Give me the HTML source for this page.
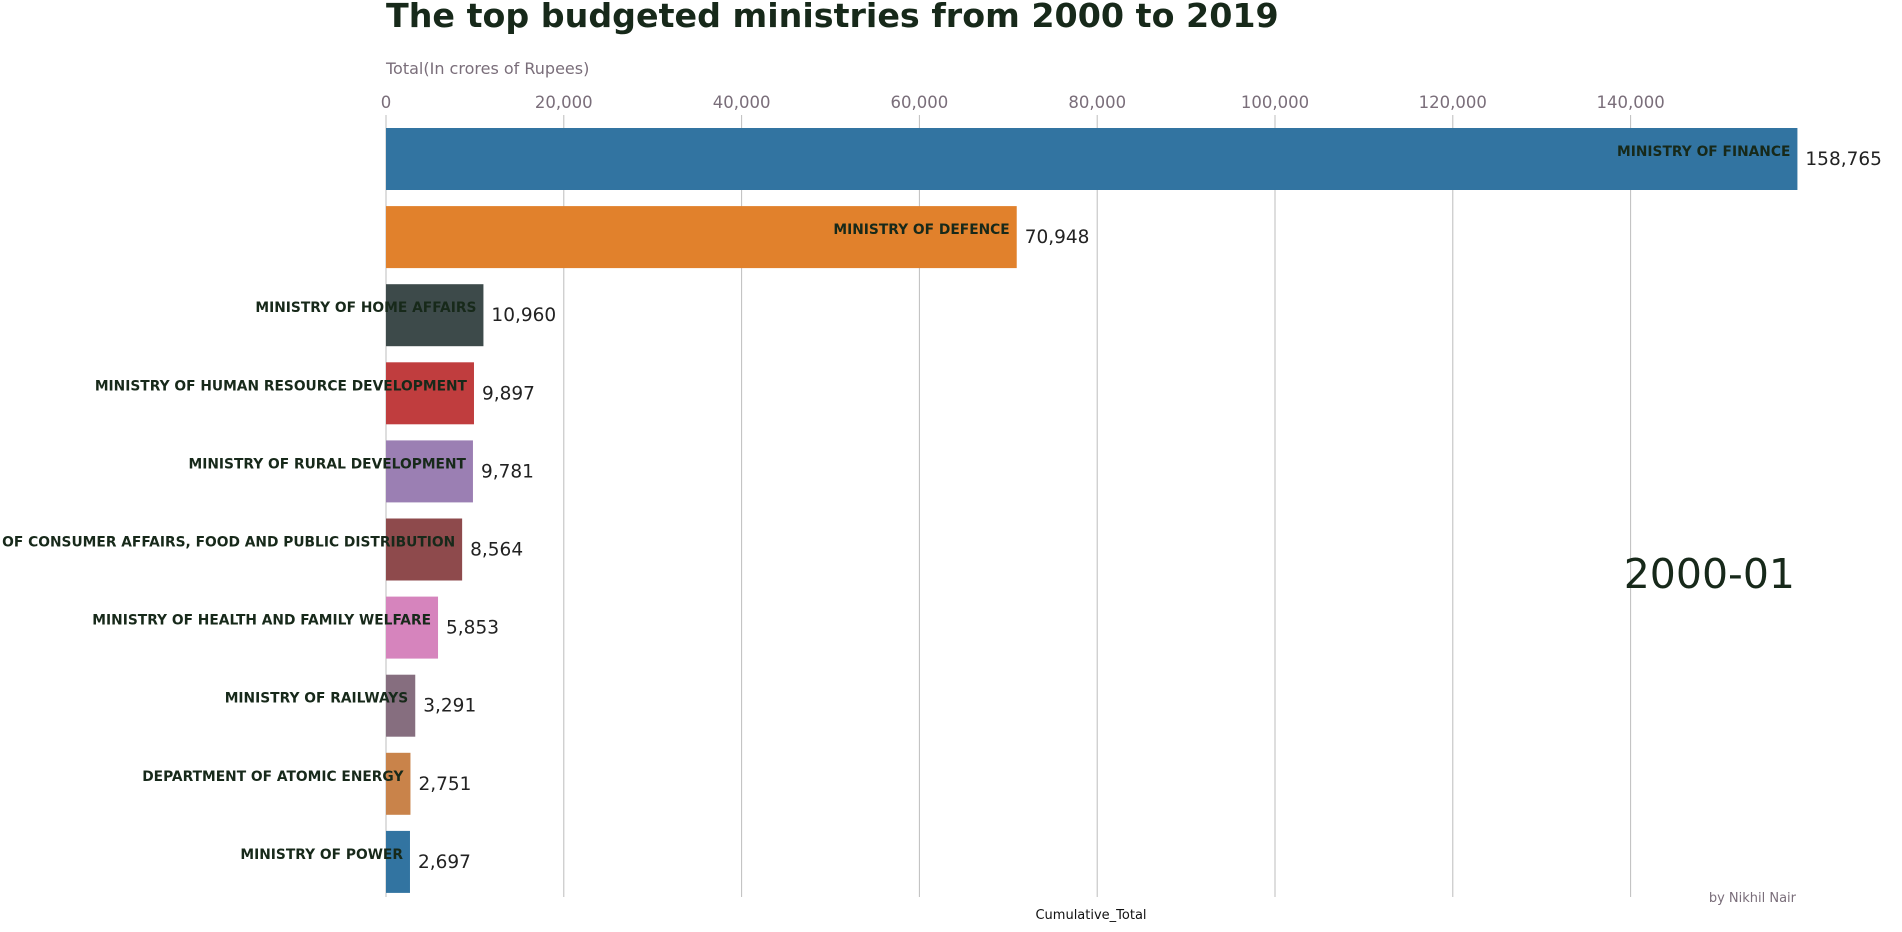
<!DOCTYPE html>
<html><head><meta charset="utf-8"><style>
body{margin:0;background:#fff;width:1902px;height:928px;overflow:hidden;font-family:"DejaVu Sans","Liberation Sans",sans-serif}
</style></head><body>
<svg id="chart" width="1902" height="928" xmlns="http://www.w3.org/2000/svg" style="font-family:'DejaVu Sans','Liberation Sans',sans-serif">
<text x="386" y="27" font-size="33.3" font-weight="bold" fill="#17291a">The top budgeted ministries from 2000 to 2019</text>
<text x="386" y="74" font-size="16" fill="#7a6e7a">Total(In crores of Rupees)</text>
<g id="grid"></g>
<g id="bars"></g>
<text x="1795" y="588" font-size="41" text-anchor="end" fill="#17291a">2000-01</text>
<text x="1796" y="902" font-size="13" text-anchor="end" fill="#7a6e7a">by Nikhil Nair</text>
<text x="1091" y="919" font-size="13" text-anchor="middle" fill="#111">Cumulative_Total</text>
</svg>
<script>
const categories = ["MINISTRY OF FINANCE","MINISTRY OF DEFENCE","MINISTRY OF HOME AFFAIRS","MINISTRY OF HUMAN RESOURCE DEVELOPMENT","MINISTRY OF RURAL DEVELOPMENT","MINISTRY OF CONSUMER AFFAIRS, FOOD AND PUBLIC DISTRIBUTION","MINISTRY OF HEALTH AND FAMILY WELFARE","MINISTRY OF RAILWAYS","DEPARTMENT OF ATOMIC ENERGY","MINISTRY OF POWER"];
const values = [158765,70948,10960,9897,9781,8564,5853,3291,2751,2697];
const colors = ["#3274a1","#e1812c","#3d4a4a","#c03d3e","#9b7fb3","#8e4a4c","#d684bd","#866e7f","#c9834a","#3274a1"];
const ticks = [0,20000,40000,60000,80000,100000,120000,140000];
const NS="http://www.w3.org/2000/svg";
const x0=386, kx=177.8/20000, top0=128, pitch=78.1, bh=62, gridTop=115, gridBot=897;
const xs=v=>x0+v*kx;
const fmt=v=>v.toLocaleString("en-US");
const grid=document.getElementById("grid"), bars=document.getElementById("bars");
function mk(tag,attrs,parent,txt){const e=document.createElementNS(NS,tag);for(const k in attrs)e.setAttribute(k,attrs[k]);if(txt!==undefined)e.textContent=txt;parent.appendChild(e);return e;}
ticks.forEach(t=>{
  const l=mk("line",{x1:xs(t),x2:xs(t),y1:gridTop,y2:gridBot,stroke:"#bdbdbd","stroke-width":1},grid);
  
  
  const tx=mk("text",{x:xs(t),y:108,"font-size":16.5,"text-anchor":"middle",fill:"#7a6e7a"},grid,fmt(t));
  
  
});
categories.forEach((c,i)=>{
  const y=top0+i*pitch, w=xs(values[i])-x0;
  const r=mk("rect",{x:x0,y:y,width:w,height:bh,fill:colors[i]},bars);
  
  
  const lb=mk("text",{x:x0+w-7,y:y+28,"font-size":13.8,"font-weight":"bold","text-anchor":"end",fill:"#17291a"},bars,c);
  
  
  const vl=mk("text",{x:x0+w+8,y:y+37,"font-size":18.5,fill:"#222"},bars,fmt(values[i]));
  
  
});
</script>
</body></html>
